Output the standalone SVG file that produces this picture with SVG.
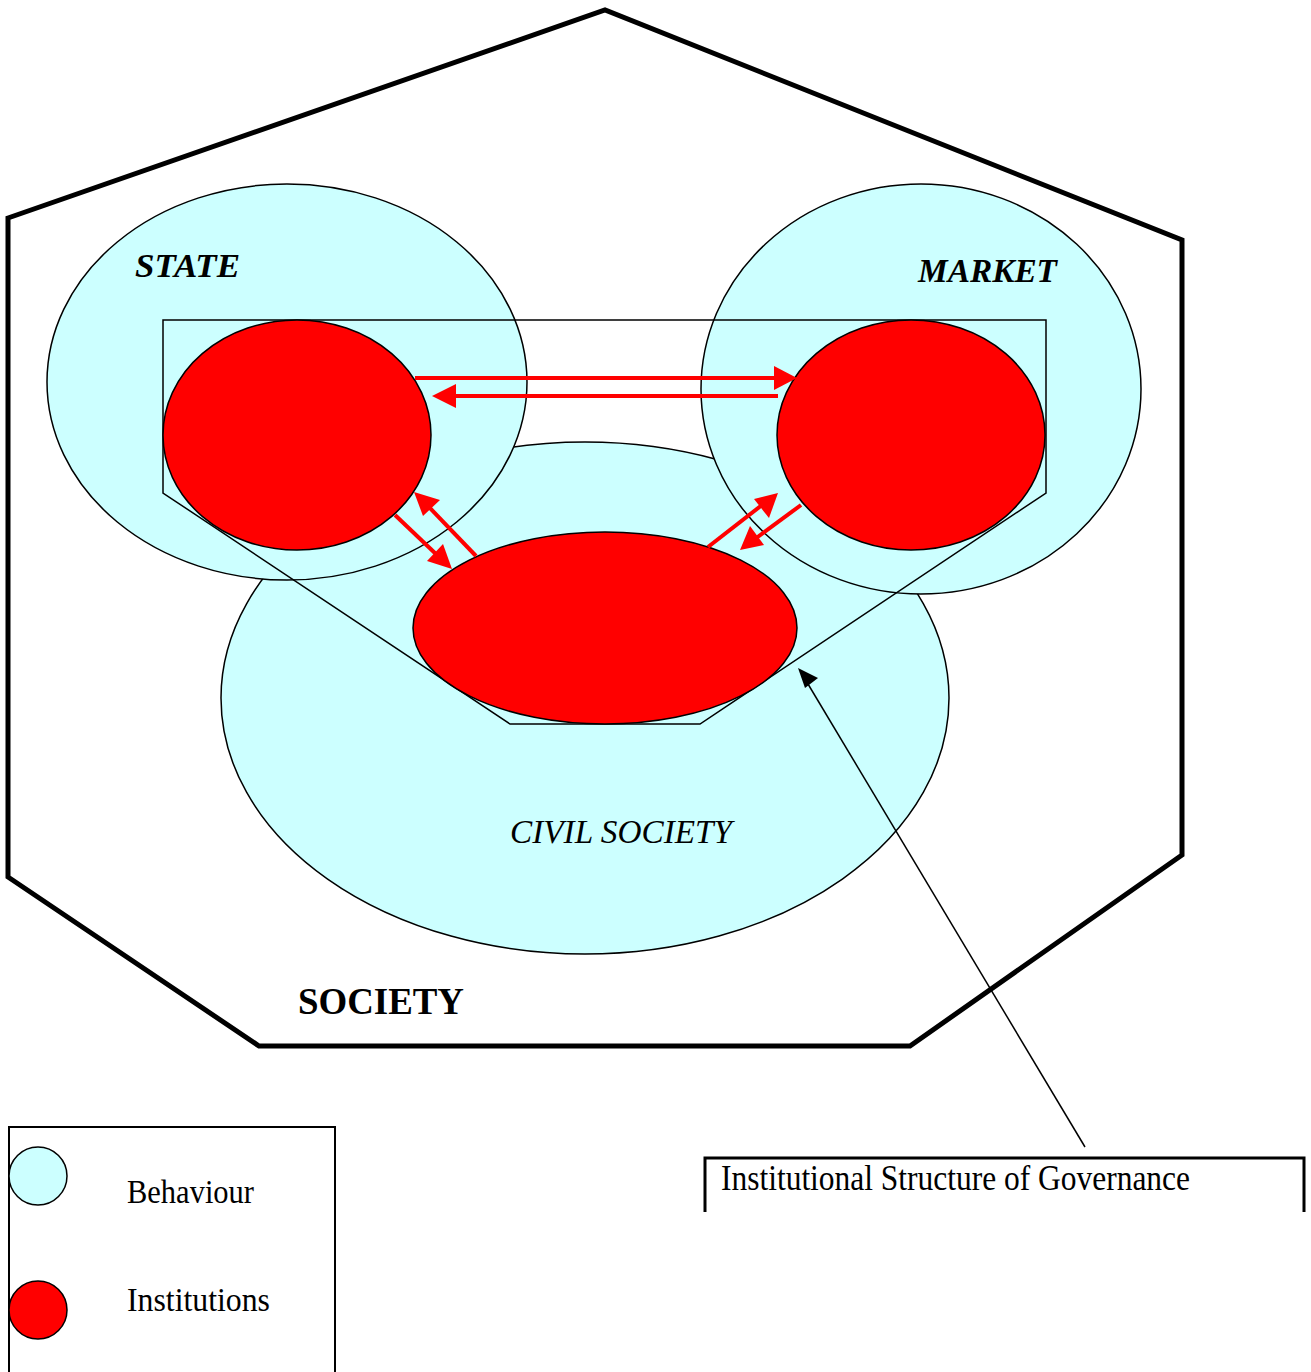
<svg xmlns="http://www.w3.org/2000/svg" width="1311" height="1372" viewBox="0 0 1311 1372">
  <defs>
    <style>
      .behaviour { fill: #ccffff; stroke: #000; stroke-width: 1.5; }
      .institution { fill: #ff0000; stroke: #000; stroke-width: 1.5; }
      .flow { stroke: #ff0000; stroke-width: 4; fill: none; }
      .head { fill: #ff0000; }
      .serif { font-family: "Liberation Serif", "DejaVu Serif", serif; fill: #000; }
    </style>
  </defs>
  <rect width="1311" height="1372" fill="#fff"/>

  <!-- society boundary -->
  <g id="society">
    <polygon points="8,218 605,10 1182,240 1182,855 910,1046 259,1046 8,877" fill="none" stroke="#000" stroke-width="5" stroke-linejoin="miter"/>
    <text class="serif" x="298" y="1014" font-size="38" font-weight="bold" textLength="166" lengthAdjust="spacingAndGlyphs">SOCIETY</text>
  </g>

  <!-- behaviour spheres -->
  <g id="civil-society">
    <ellipse class="behaviour" cx="585" cy="698" rx="364" ry="256"/>
    <text class="serif" x="510" y="843" font-size="34" font-style="italic" textLength="222" lengthAdjust="spacingAndGlyphs">CIVIL SOCIETY</text>
  </g>
  <g id="state">
    <ellipse class="behaviour" cx="287" cy="382" rx="240" ry="198"/>
    <text class="serif" x="135" y="277" font-size="34" font-weight="bold" font-style="italic" textLength="105" lengthAdjust="spacingAndGlyphs">STATE</text>
  </g>
  <g id="market">
    <ellipse class="behaviour" cx="921" cy="389" rx="220" ry="205"/>
    <text class="serif" x="918" y="282" font-size="34" font-weight="bold" font-style="italic" textLength="139" lengthAdjust="spacingAndGlyphs">MARKET</text>
  </g>

  <!-- institutional structure of governance -->
  <g id="governance-structure">
    <polygon points="163,320 1046,320 1046,493 700,724 510,724 163,493" fill="none" stroke="#000" stroke-width="1.5"/>
  </g>

  <!-- institutions -->
  <g id="state-institutions">
    <ellipse class="institution" cx="297" cy="435" rx="134" ry="115"/>
  </g>
  <g id="market-institutions">
    <ellipse class="institution" cx="911" cy="435" rx="134" ry="115"/>
  </g>
  <g id="civil-institutions">
    <ellipse class="institution" cx="605" cy="628" rx="192" ry="96"/>
  </g>

  <!-- interactions between institutions -->
  <g id="connectors">
    <line class="flow" x1="415" y1="378" x2="776" y2="378"/>
    <polygon class="head" points="797,378 774,366 774,390"/>
    <line class="flow" x1="778" y1="396" x2="454" y2="396"/>
    <polygon class="head" points="432,396 456,384 456,408"/>

    <line class="flow" x1="395" y1="515" x2="437" y2="555"/>
    <polygon class="head" points="452,569 427,561 443,544"/>
    <line class="flow" x1="476" y1="556" x2="428" y2="506"/>
    <polygon class="head" points="414,492 440,500 423,516"/>

    <line class="flow" x1="708" y1="547" x2="762" y2="505"/>
    <polygon class="head" points="778,493 769,518 754,499"/>
    <line class="flow" x1="801" y1="505" x2="755" y2="539"/>
    <polygon class="head" points="740,550 750,526 764,545"/>

    <line x1="1085" y1="1147" x2="808" y2="684" stroke="#000" stroke-width="1.5"/>
    <polygon points="798,668 818,678 805,688" fill="#000"/>
  </g>

  <!-- callout label -->
  <g id="governance-label">
    <polyline points="705,1212 705,1158 1304,1158 1304,1212" fill="none" stroke="#000" stroke-width="3"/>
    <text class="serif" x="721" y="1190" font-size="36" textLength="469" lengthAdjust="spacingAndGlyphs">Institutional Structure of Governance</text>
  </g>

  <!-- legend -->
  <g id="legend">
    <polyline points="9,1372 9,1127 335,1127 335,1372" fill="none" stroke="#000" stroke-width="2"/>
    <circle class="behaviour" cx="38" cy="1176" r="29"/>
    <text class="serif" x="127" y="1203" font-size="34" textLength="127" lengthAdjust="spacingAndGlyphs">Behaviour</text>
    <circle class="institution" cx="38" cy="1310" r="29"/>
    <text class="serif" x="127" y="1311" font-size="34" textLength="143" lengthAdjust="spacingAndGlyphs">Institutions</text>
  </g>
</svg>
